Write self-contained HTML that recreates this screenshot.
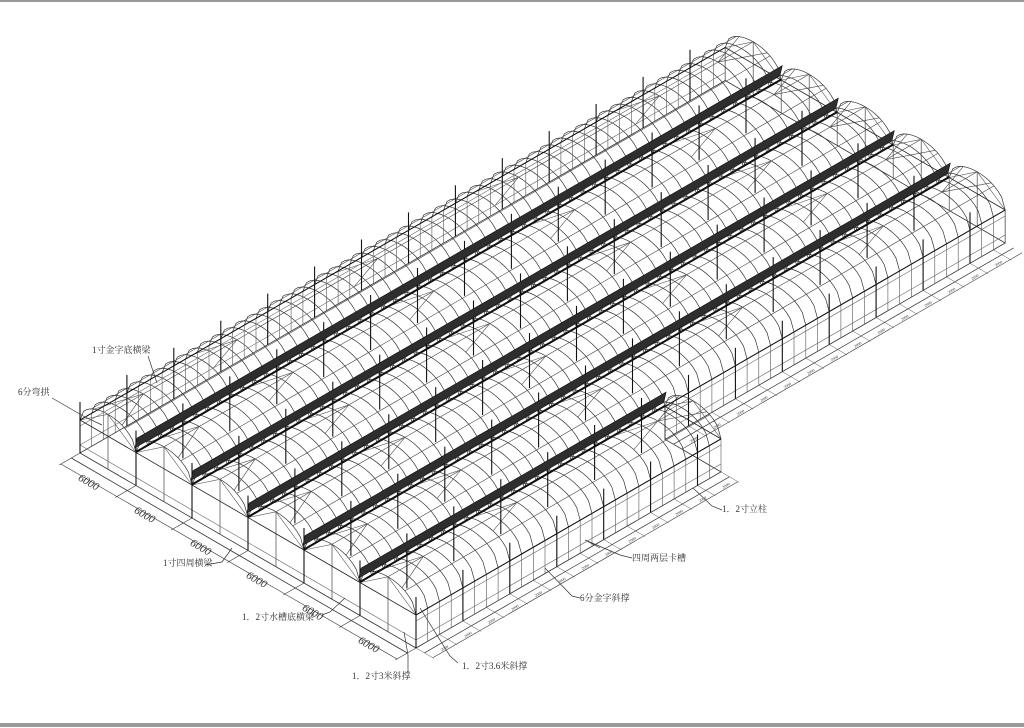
<!DOCTYPE html>
<html><head><meta charset="utf-8"><style>
html,body{margin:0;padding:0;background:#fff;width:1024px;height:728px;overflow:hidden}
svg{display:block}
text{font-family:"Liberation Serif","Noto Serif CJK SC",serif;font-size:9px;fill:#333}
</style></head><body>
<svg id="s" width="1024" height="728" viewBox="0 0 1024 728" xmlns="http://www.w3.org/2000/svg">
<rect x="0" y="0" width="1024" height="2" fill="#999"/>
<rect x="0" y="723" width="1024" height="4" fill="#999"/>
<g id="g" fill="none" stroke="#222" stroke-width="0.8"></g>
<g id="lab" stroke="#333" stroke-width="0.7" fill="none">
<polyline points="148,356 152,368 157,383"/>
<polyline points="52,398 85,417 102,425"/>
<polyline points="205,565 222,562 232,548"/>
<polyline points="322,615 330,612 345,598"/>
<polyline points="408,672 408,655 404,632"/>
<polyline points="458,663 450,656 420,608"/>
<polyline points="580,598 572,596 545,568"/>
<polyline points="632,558 620,555 585,540 600,548"/>
<polyline points="722,510 712,506 693,488"/>
</g>
<text x="92" y="353">1寸金字底横梁</text>
<text x="18" y="395">6分弯拱</text>
<text x="163" y="566">1寸四周横梁</text>
<text x="242" y="620">1．2寸水槽底横梁</text>
<text x="352" y="679">1．2寸3米斜撑</text>
<text x="462" y="669">1．2寸3.6米斜撑</text>
<text x="580" y="601">6分金字斜撑</text>
<text x="632" y="561">四周两层卡槽</text>
<text x="722" y="512">1．2寸立柱</text>
</svg>
<script>
(function(){
var g=document.getElementById('g'),svg=document.getElementById('s');
var h=33,Ha=22,sp=745/55,L=745,L5=26*sp;
function P(s,t,z){return [80+56*s+0.866*t,453+32.5*s-0.5*t-z];}
var out=[];
function line(a,b,st){out.push('<line x1="'+a[0].toFixed(1)+'" y1="'+a[1].toFixed(1)+'" x2="'+b[0].toFixed(1)+'" y2="'+b[1].toFixed(1)+'"'+(st?' style="'+st+'"':'')+'/>');}
function poly(pts,st,tag){out.push('<'+(tag||'polyline')+' points="'+pts.map(function(p){return p[0].toFixed(1)+','+p[1].toFixed(1)}).join(' ')+'"'+(st?' style="'+st+'"':'')+'/>');}
function archZ(f){return h+Ha*Math.sqrt(Math.max(0,1-(2*f-1)*(2*f-1)));}
function arch(i,t,st){var p=[];for(var k=0;k<=16;k++){var f=k/16;p.push(P(i+f,t,archZ(f)));}poly(p,st);}
function len(i){return i==5?L5:L;}
poly([P(0,0,0),P(6,0,0),P(6,L5,0),P(5,L5,0),P(5,L,0),P(0,L,0)],'stroke:#333',"polygon");
for(var i=0;i<6;i++){var n=Math.round(len(i)/sp);
  for(var k=0;k<=n;k++){var t=k*sp;
    arch(i,t,'stroke:#333;stroke-width:0.7');
  }
  [0.5,0.2,0.8].forEach(function(f){line(P(i+f,0,archZ(f)),P(i+f,len(i),archZ(f)),'stroke:#444;stroke-width:0.6');});
  [[0,1],[len(i),-1]].forEach(function(e){var t0=e[0],d=e[1];
    line(P(i+0.25,t0,archZ(0.25)),P(i+0.5,t0+d*3*sp,archZ(0.5)),'stroke:#444;stroke-width:0.6');
    line(P(i+0.75,t0,archZ(0.75)),P(i+0.5,t0+d*3*sp,archZ(0.5)),'stroke:#444;stroke-width:0.6');
    line(P(i,t0,h),P(i+0.5,t0,archZ(0.5)),'stroke:#555;stroke-width:0.6');
    line(P(i+1,t0,h),P(i+0.5,t0,archZ(0.5)),'stroke:#555;stroke-width:0.6');
  });
  for(var k=8;k<n-4;k+=12){line(P(i+0.3,k*sp,archZ(0.3)),P(i+0.5,(k+3)*sp,archZ(0.5)),'stroke:#555;stroke-width:0.6');line(P(i+0.7,k*sp,archZ(0.7)),P(i+0.5,(k+3)*sp,archZ(0.5)),'stroke:#555;stroke-width:0.6');}
}
function wall(s,t0,t1){for(var t=t0;t<=t1+0.1;t+=sp){line(P(s,t,0),P(s,t,h),'stroke:#555;stroke-width:0.6');}
  line(P(s,t0,h),P(s,t1,h));line(P(s,t0,8),P(s,t1,8),'stroke:#666;stroke-width:0.6');line(P(s,t0,h-6),P(s,t1,h-6),'stroke:#666;stroke-width:0.6');}
wall(0,0,L);wall(6,0,L5);wall(5,L5,L);
for(var s=0;s<=6;s+=0.5){line(P(s,0,0),P(s,0,s%1?archZ(0.5):h),'stroke:#444;stroke-width:0.7');}
line(P(0,0,h),P(6,0,h));line(P(0,0,8),P(6,0,8),'stroke:#666;stroke-width:0.6');
for(var s=0;s<=5;s+=0.5){line(P(s,L,0),P(s,L,s%1?archZ(0.5):h),'stroke:#444;stroke-width:0.7');}
line(P(0,L,h),P(5,L,h));line(P(5,L5,h),P(6,L5,h));line(P(5,L5,0),P(5,L5,h));
for(var s=0;s<=6;s++){var l=(s==6)?L5:L;line(P(s,0,h),P(s,l,h),'stroke:#111;stroke-width:1');}
for(var s=0;s<=6;s++){var l=(s==6)?L5:L;var n=Math.round(l/sp);
  for(var k=0;k<=n;k+=4){var top=(s==0||s==6||(s==5&&k*sp>L5))?h+18:h+22;line(P(s,k*sp,0),P(s,k*sp,top),'stroke:#111;stroke-width:1.1');}}
for(var s=1;s<=5;s++){var l=(s==5)?L5:L;
  poly([P(s-0.02,0,h+4),P(s-0.02,l,h+4),P(s+0.02,l,h+15),P(s+0.02,0,h+15)],'fill:#2e2e2e;stroke:#111;stroke-width:0.6','polygon');
  line(P(s,0,h+0.5),P(s,l,h+0.5),'stroke:#111;stroke-width:2');
}
line(P(0,-10,0),P(6,-10,0),'stroke:#333');
line(P(0,-22,0),P(6,-22,0),'stroke:#333;stroke-width:0.6');
for(var s=0;s<=6;s++){line(P(s,0,0),P(s,-24,0),'stroke:#333;stroke-width:0.6');}
function sdim(s,t0,t1){line(P(s+0.15,t0,0),P(s+0.15,t1,0),'stroke:#333;stroke-width:0.7');line(P(s+0.3,t0,0),P(s+0.3,t1,0),'stroke:#333;stroke-width:0.6');
  for(var t=t0;t<=t1+0.1;t+=sp*2){line(P(s,t,0),P(s+0.32,t,0),'stroke:#555;stroke-width:0.5');}}
sdim(6,0,L5);sdim(5,L5,L);
g.innerHTML=out.join('');
var t2=[];for(var i=0;i<6;i++){var p=P(i+0.5,-19,0);t2.push('<text transform="translate('+(p[0]-14).toFixed(1)+','+(p[1]+1).toFixed(1)+') rotate(30)" style="font-size:11px;font-style:italic">6000</text>');}
function slab(s,t0,t1){for(var t=t0+sp;t<t1;t+=sp*2){var p=P(s+0.25,t,0);t2.push('<text transform="translate('+p[0].toFixed(1)+','+(p[1]+2).toFixed(1)+') rotate(-30)" style="font-size:4px">2000</text>');}}
slab(6,0,L5);slab(5,L5,L);
svg.insertAdjacentHTML('beforeend',t2.join(''));
})();
</script>
</body></html>
